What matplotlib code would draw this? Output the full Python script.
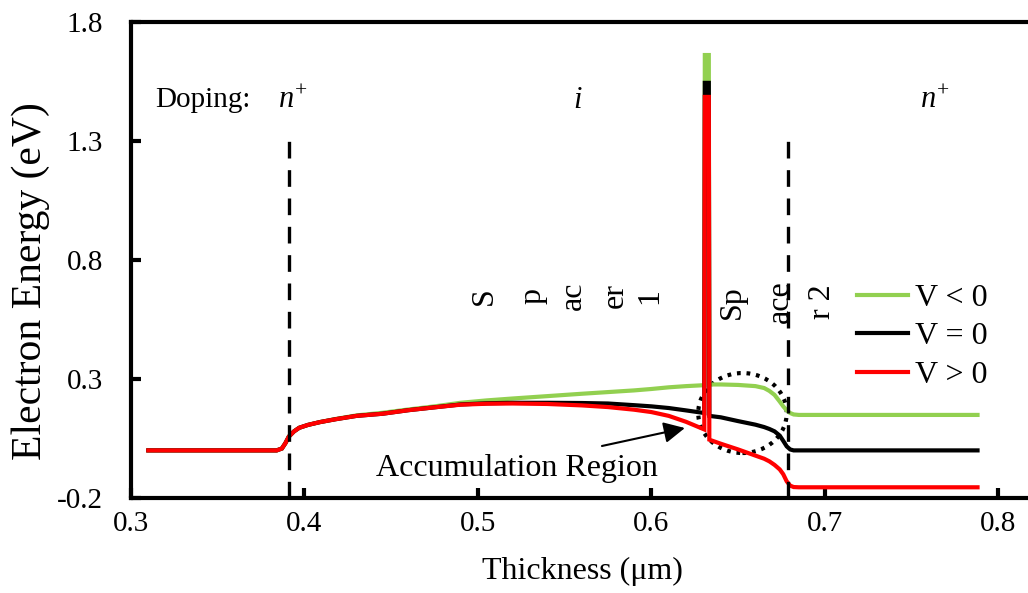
import matplotlib
matplotlib.use("Agg")
import matplotlib.pyplot as plt
from matplotlib.patches import Ellipse

plt.rcParams['font.family'] = ['Liberation Serif', 'DejaVu Serif']
plt.rcParams['mathtext.fontset'] = 'custom'
plt.rcParams['mathtext.rm'] = 'Liberation Serif'
plt.rcParams['mathtext.it'] = 'Liberation Serif:italic'

# band edge profiles (um, eV), barrier spike included
x = [0.31, 0.384, 0.387, 0.389, 0.391, 0.394, 0.397, 0.402, 0.409, 0.418,
     0.43, 0.445, 0.46, 0.475, 0.49, 0.505, 0.52, 0.54, 0.56, 0.575,
     0.59, 0.60, 0.61, 0.62, 0.6305, 0.6308, 0.6331, 0.6334, 0.64, 0.65,
     0.66, 0.665, 0.668, 0.671, 0.674, 0.676, 0.678, 0.68, 0.682, 0.685, 0.788]

e_neg = [0.0, 0.0, 0.008, 0.03, 0.058, 0.08, 0.095, 0.107, 0.119, 0.132,
         0.147, 0.158, 0.172, 0.185, 0.2, 0.21, 0.218, 0.228, 0.238, 0.245,
         0.252, 0.258, 0.265, 0.27, 0.274, 1.661, 1.661, 0.277, 0.277, 0.275,
         0.27, 0.262, 0.25, 0.233, 0.205, 0.185, 0.168, 0.157, 0.151, 0.149, 0.149]

e_zero = [0.0, 0.0, 0.008, 0.03, 0.058, 0.08, 0.095, 0.107, 0.119, 0.131,
          0.145, 0.154, 0.169, 0.181, 0.193, 0.198, 0.2, 0.2, 0.199, 0.197,
          0.19, 0.185, 0.178, 0.168, 0.157, 1.544, 1.544, 0.145, 0.139, 0.123,
          0.108, 0.098, 0.09, 0.08, 0.062, 0.04, 0.017, 0.004, 0.0, 0.0, 0.0]

e_pos = [0.0, 0.0, 0.008, 0.03, 0.058, 0.08, 0.095, 0.107, 0.119, 0.131,
         0.145, 0.154, 0.169, 0.181, 0.192, 0.196, 0.197, 0.195, 0.189, 0.182,
         0.171, 0.161, 0.145, 0.12, 0.088, 1.485, 1.485, 0.045, 0.028, 0.004,
         -0.022, -0.035, -0.046, -0.061, -0.08, -0.1, -0.13, -0.148, -0.154, -0.155, -0.155]

labels = ['V < 0', 'V = 0', 'V > 0']
colors = ['#92d050', 'black', 'red']

boundaries = [0.391, 0.679]
spacer_1 = [('S', 0.5035), ('p', 0.5315), ('ac', 0.5548), ('er', 0.579), ('1', 0.5988)]
spacer_2 = [('Sp', 0.6465), ('ace', 0.6742), ('r 2', 0.6985)]

fig = plt.figure(figsize=(10.28, 5.93), dpi=100)
ax = fig.add_axes([0.1274, 0.1602, 0.8775, 0.8028])

for ys, lab, c in zip([e_neg, e_zero, e_pos], labels, colors):
    ax.plot(x, ys, color=c, lw=3, label=lab, solid_joinstyle='miter')

for b in boundaries:
    ax.plot([b, b], [-0.2, 1.3], color='black', lw=2.4, ls=(0, (5, 3.5)))

# accumulation region marker
ax.add_patch(Ellipse((0.6525, 0.157), 0.051, 0.336, fill=False,
                     ec='black', lw=3, ls=(0, (0.9, 1.4))))
ax.annotate('', xy=(0.6193, 0.094), xytext=(0.5715, 0.0185),
            arrowprops=dict(arrowstyle='-|>', color='black', lw=1.5,
                            mutation_scale=32, shrinkA=0, shrinkB=0))
ax.text(0.5225, -0.074, 'Accumulation Region', ha='center', va='center', fontsize=23)

ax.text(0.3138, 1.47, 'Doping:', ha='left', va='center', fontsize=21)
ax.text(0.3934, 1.47, r'$n^{+}$', ha='center', va='center', fontsize=22)
ax.text(0.5576, 1.47, r'$i$', ha='center', va='center', fontsize=22)
ax.text(0.7632, 1.47, r'$n^{+}$', ha='center', va='center', fontsize=22)

for s, xp in spacer_1:
    ax.text(xp, 0.65, s, rotation=90, ha='center', va='center', fontsize=23)
for s, xp in spacer_2:
    ax.text(xp, 0.625, s, rotation=90, ha='center', va='center', fontsize=23)

ax.set_xlim(0.3, 0.82)
ax.set_ylim(-0.2, 1.8)
ax.set_xticks([0.3, 0.4, 0.5, 0.6, 0.7, 0.8])
ax.set_yticks([-0.2, 0.3, 0.8, 1.3, 1.8])
ax.set_xticklabels(['0.3', '0.4', '0.5', '0.6', '0.7', '0.8'])
ax.set_yticklabels(['-0.2', '0.3', '0.8', '1.3', '1.8'])
ax.tick_params(direction='in', length=7, width=3, labelsize=21)
ax.tick_params(axis='x', pad=9)
ax.tick_params(axis='y', pad=20)
for sp in ax.spines.values():
    sp.set_linewidth(3)

ax.set_xlabel('Thickness (μm)', fontsize=23, labelpad=15)
ax.set_ylabel('Electron Energy (eV)', fontsize=30)
ax.yaxis.set_label_coords(-0.09, 0.456)

ax.legend(loc='upper left', bbox_to_anchor=(0.805, 0.45), frameon=False,
          fontsize=23, handlelength=1.6, handletextpad=0.2, labelspacing=0.28,
          borderaxespad=0, borderpad=0)

fig.savefig('out.png', dpi=100)
